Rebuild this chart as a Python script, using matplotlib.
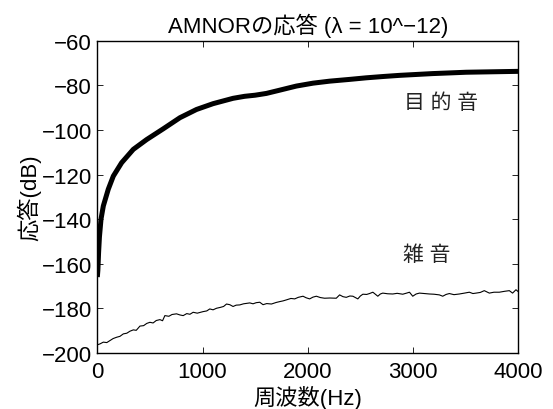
import matplotlib
matplotlib.use("Agg")
import matplotlib.pyplot as plt

plt.rcParams['font.family'] = ['Liberation Sans', 'Noto Sans CJK JP', 'DejaVu Sans']

# target signal response (thick curve)
target_hz = [0, 5, 12, 20, 35, 57, 104, 152, 231, 342, 469, 626, 785, 943,
             1100, 1290, 1400, 1500, 1607, 1720, 1892, 2050, 2208, 2400,
             2556, 2720, 2872, 3030, 3188, 3350, 3505, 3750, 4000]
target_db = [-166, -163, -155, -148, -140, -134.1, -126.6, -120.7, -114.7,
             -108.7, -104.3, -99.5, -94.5, -90.8, -88.2, -85.8, -84.9, -84.4,
             -83.6, -82.3, -80.3, -79.0, -78.1, -77.3, -76.6, -76.0, -75.5,
             -75.1, -74.7, -74.4, -74.1, -73.9, -73.7]

# noise response (thin curve)
noise_hz = [0, 25, 57, 90, 120, 150, 184, 215, 247, 280, 310, 342, 370, 405,
            440, 470, 500, 530, 560, 595, 620, 642, 680, 710, 753, 785, 816,
            850, 880, 911, 950, 1006, 1040, 1069, 1100, 1133, 1170, 1200,
            1228, 1259, 1290, 1320, 1354, 1390, 1420, 1449, 1480, 1510, 1544,
            1575, 1610, 1655, 1700, 1735, 1765, 1800, 1840, 1876, 1910, 1955,
            1985, 2018, 2050, 2082, 2120, 2160, 2210, 2271, 2303, 2335, 2366,
            2400, 2429, 2476, 2500, 2524, 2560, 2587, 2619, 2666, 2690, 2713,
            2760, 2808, 2850, 2903, 2940, 2967, 2998, 3030, 3062, 3110, 3157,
            3200, 3251, 3283, 3315, 3346, 3390, 3441, 3490, 3536, 3570, 3600,
            3640, 3678, 3726, 3770, 3821, 3870, 3916, 3947, 3979, 4000]
noise_db = [-196.4, -196.0, -195.2, -195.4, -194.5, -193.6, -193.0, -192.6,
            -191.5, -191.2, -190.3, -189.7, -189.9, -188.0, -187.8, -186.8,
            -186.3, -186.6, -185.5, -185.1, -185.6, -183.3, -183.6, -182.8,
            -182.5, -183.0, -183.3, -182.4, -182.7, -181.8, -182.2, -181.5,
            -181.2, -180.3, -180.7, -180.0, -179.6, -179.2, -178.1, -178.4,
            -179.2, -178.6, -178.5, -178.0, -177.8, -177.6, -178.0, -177.5,
            -177.3, -178.4, -177.9, -178.1, -177.4, -177.0, -176.7, -176.2,
            -175.6, -175.8, -175.1, -174.6, -175.3, -175.8, -175.0, -174.6,
            -175.2, -175.5, -175.4, -175.5, -174.0, -174.8, -175.1, -174.5,
            -174.6, -175.8, -174.5, -173.7, -173.8, -173.4, -172.8, -174.6,
            -173.6, -173.2, -173.5, -173.6, -173.3, -173.7, -173.2, -172.8,
            -174.6, -173.6, -173.2, -173.4, -173.6, -173.7, -174.0, -174.6,
            -173.8, -173.4, -173.9, -173.6, -173.2, -172.8, -173.4, -173.2,
            -172.9, -172.1, -173.2, -172.8, -172.8, -172.4, -172.1, -173.2,
            -171.7, -172.5]

x_ticks = [0, 1000, 2000, 3000, 4000]
y_ticks = [-200, -180, -160, -140, -120, -100, -80, -60]

fig = plt.figure(figsize=(5.53, 4.10), dpi=100)
ax = fig.add_axes([0.176, 0.137, 0.761, 0.761])

ax.plot(target_hz, target_db, color='black', linewidth=3.6, solid_capstyle='butt')
ax.plot(noise_hz, noise_db, color='black', linewidth=0.8)

ax.text(3270, -87.7, '目 的 音', fontsize=15, ha='center', va='center',
        color='#222222')
ax.text(3128, -155.7, '雑 音', fontsize=15, ha='center', va='center',
        color='#222222')

ax.set_xlim(0, 4000)
ax.set_ylim(-200, -60)
ax.set_xticks(x_ticks)
ax.set_yticks(y_ticks)
ax.tick_params(direction='in', length=4, width=0.6, top=True, right=True,
               labelsize=16)
ax.tick_params(axis='x', pad=6)
ax.tick_params(axis='y', pad=4)
for s in ax.spines.values():
    s.set_linewidth(1.0)

ax.set_title('AMNORの応答 (λ = 10^−12)', fontsize=16, pad=6)
ax.set_xlabel('周波数(Hz)', fontsize=16, labelpad=2)
ax.set_ylabel('応答(dB)', fontsize=16, labelpad=0)

fig.savefig('out.png', dpi=100)
